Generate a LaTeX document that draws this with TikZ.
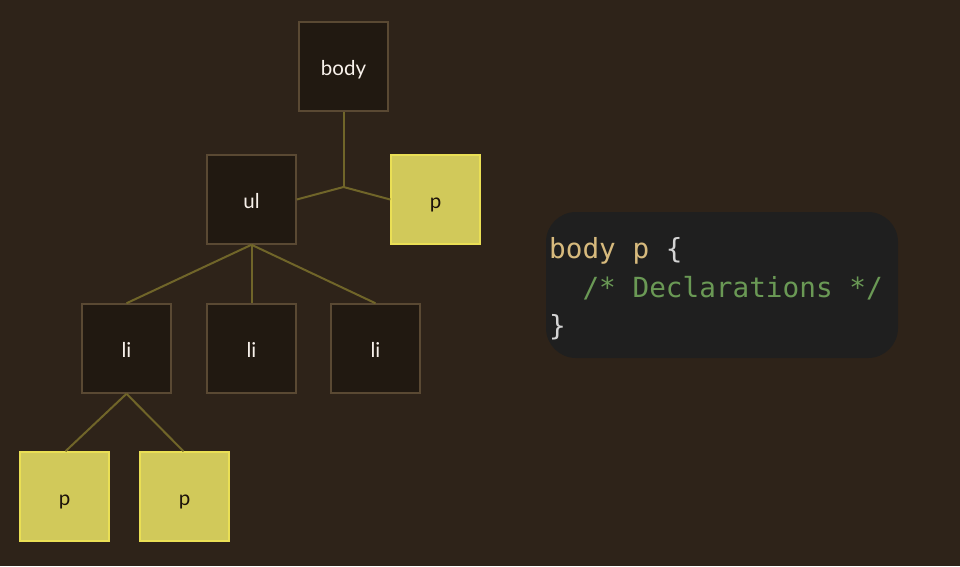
\documentclass[tikz,border=0pt]{standalone}
\usepackage{fontspec}
\setmainfont{Lato}
\newfontfamily\codefont{DejaVu Sans Mono}
\definecolor{bg}{HTML}{2E2319}
\definecolor{darkfill}{HTML}{211911}
\definecolor{darkline}{HTML}{5A4933}
\definecolor{yfill}{HTML}{D1C95A}
\definecolor{yline}{HTML}{EADF55}
\definecolor{conn}{HTML}{706529}
\definecolor{codebg}{HTML}{1F1F1F}
\definecolor{ctan}{HTML}{D7BA7D}
\definecolor{cgrey}{HTML}{D4D4D4}
\definecolor{cgreen}{HTML}{6A9955}
\tikzset{
  boxbase/.style={line width=1.5pt, minimum width=89pt, minimum height=89pt, inner sep=0pt, text height=17pt, text depth=0pt, font=\fontsize{20.5}{24}\selectfont},
  el/.style={boxbase, draw=darkline, fill=darkfill, text=white!90!brown},
  yel/.style={boxbase, draw=yline, fill=yfill, text=black!85!brown},
  link/.style={draw=conn, line width=2pt},
  codeline/.style={anchor=base west, inner sep=0pt, font=\codefont\fontsize{27.7}{30}\selectfont}
}
\begin{document}
\begin{tikzpicture}[x=1pt,y=-1pt]
\fill[bg] (0,0) rectangle (960,566);
\useasboundingbox (0,0) rectangle (960,566);
\node[el] (body) at (343.5,66.5) {body};
\node[el] (ul) at (251.5,199.5) {ul};
\node[yel] (p0) at (435.5,199.5) {p};
\node[el] (li1) at (126.5,348.5) {li};
\node[el] (li2) at (251.5,348.5) {li};
\node[el] (li3) at (375.5,348.5) {li};
\node[yel] (p1) at (64.5,496.5) {p};
\node[yel] (p2) at (184.5,496.5) {p};
\coordinate (j) at (343.5,187);
\draw[link] (body.south) -- (j);
\draw[link] (j) -- (ul.east);
\draw[link] (j) -- (p0.west);
\draw[link] (ul.south) -- (li1.north);
\draw[link] (ul.south) -- (li2.north);
\draw[link] (ul.south) -- (li3.north);
\draw[link] (li1.south) -- ([xshift=1pt]p1.north);
\draw[link] (li1.south) -- ([xshift=-1pt]p2.north);
\node[fill=codebg, rounded corners=30pt, minimum width=352pt, minimum height=146pt, inner sep=0pt] (code) at (722,285) {};
\node[codeline] (l1) at (549,258) {\textcolor{ctan}{body p} \textcolor{cgrey}{\{}};
\node[codeline, text=cgreen] (l2) at (549,297) {\ \ /* Declarations */};
\node[codeline, text=cgrey] (l3) at (549,335) {\}};
\end{tikzpicture}
\end{document}
